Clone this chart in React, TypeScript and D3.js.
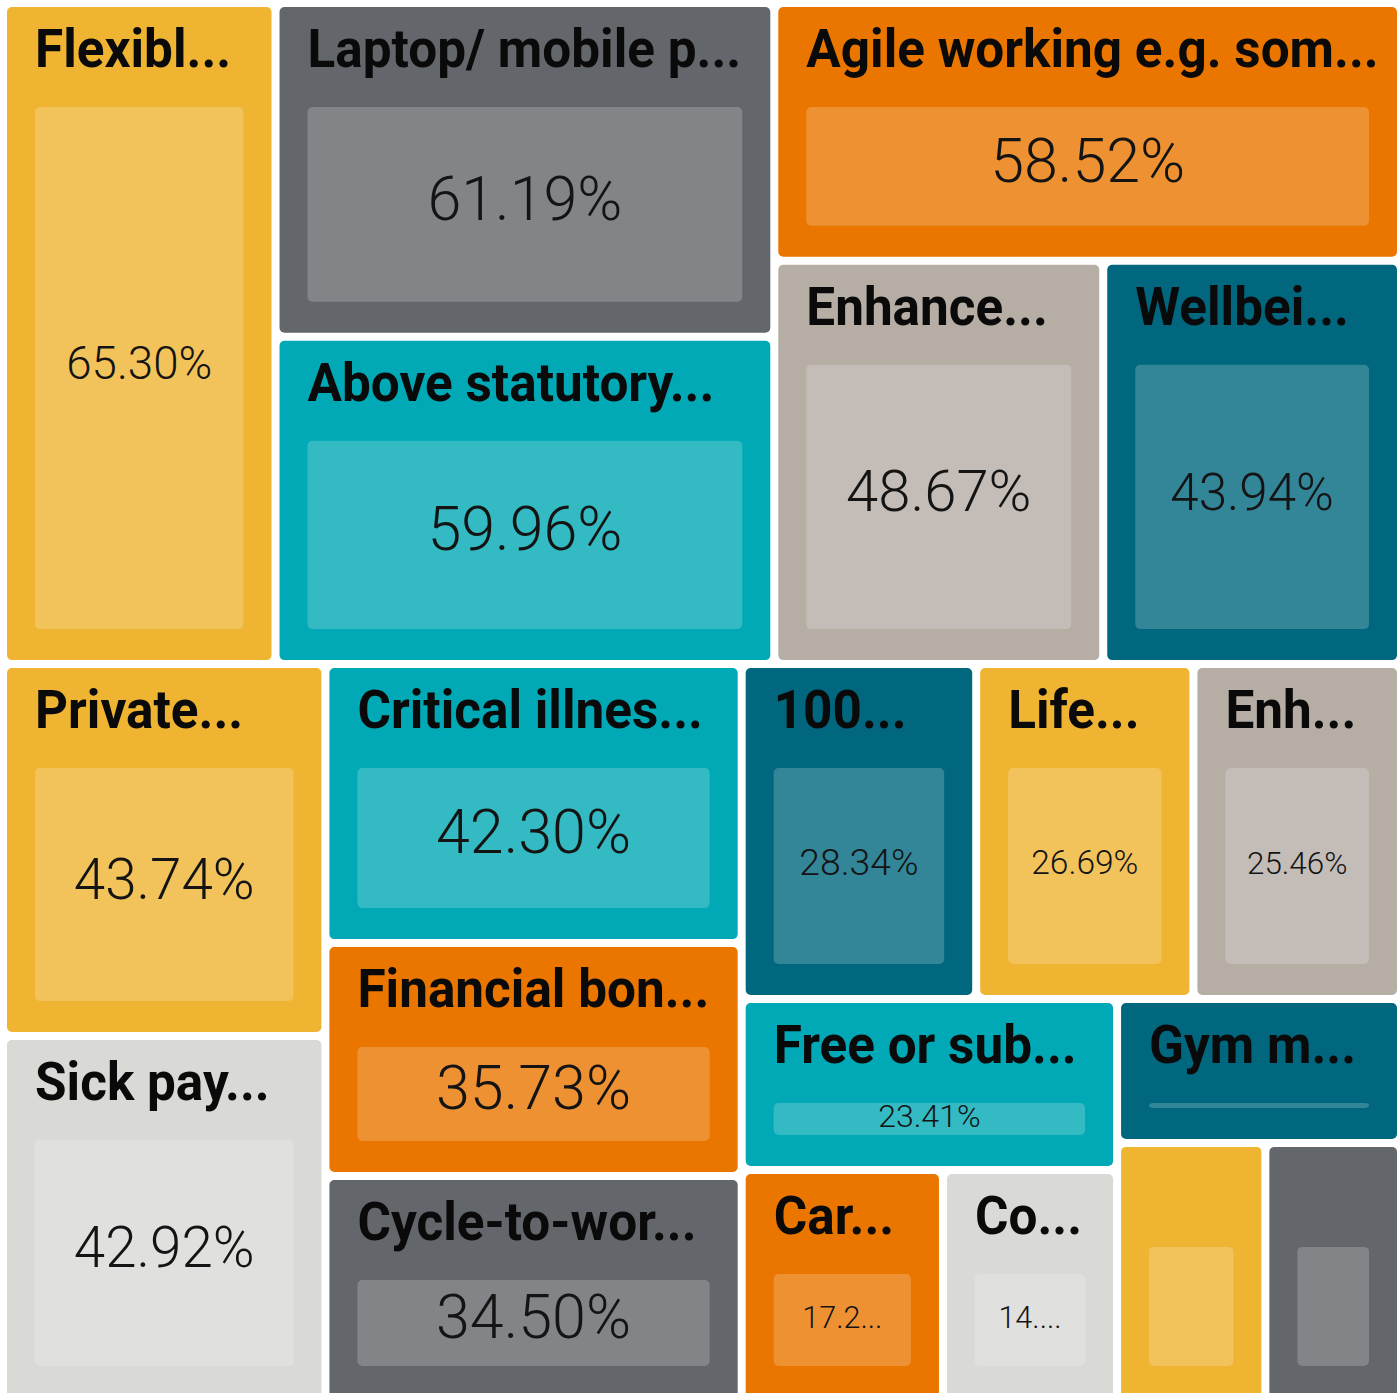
import React, { useMemo } from "react";
import * as d3 from "d3";

// Benefit categories (as labelled on the tiles) and their share of employers.
const CATEGORIES = [
  "Flexibl...",
  "Laptop/ mobile p...",
  "Above statutory...",
  "Agile working e.g. som...",
  "Enhance...",
  "Wellbei...",
  "Private...",
  "Sick pay...",
  "Critical illnes...",
  "Financial bon...",
  "Cycle-to-wor...",
  "100...",
  "Life...",
  "Enh...",
  "Free or sub...",
  "Car...",
  "Co...",
  "Gym m...",
  "",
  "",
];

const VALUES = [
  65.3, 61.19, 59.96, 58.52, 48.67, 43.94, 43.74, 42.92, 42.3, 35.73, 34.5,
  28.34, 26.69, 25.46, 23.41, 17.22, 14.8, 14.66, 14.12, 12.85,
];

const COLOR_KEYS = [
  "yellow", "slate", "teal", "orange", "taupe", "petrol",
  "yellow", "silver", "teal", "orange", "slate",
  "petrol", "yellow", "taupe", "teal", "orange", "silver", "petrol",
  "yellow", "slate",
];

const PALETTE: Record<string, string> = {
  yellow: "#F0B433",
  slate: "#63666A",
  teal: "#00A9B5",
  orange: "#EA7600",
  taupe: "#B6ADA5",
  petrol: "#00677F",
  silver: "#D9D9D6",
};

const VIEW_W = 1399;
const VIEW_H = 1393;
const LAYOUT_SIZE = 1404;
const OUTER = 7;
const GAP = 8;

const PAD_X = 28;
const INNER_TOP = 100;
const INNER_BOTTOM = 31;
const TITLE_SIZE = 54;
const TITLE_SQUEEZE = 0.95;
const VALUE_MIN = 30.6;
const VALUE_MAX = 61;
const VALUE_FONT = "Roboto";

let measureCtx: CanvasRenderingContext2D | null = null;
function measure(text: string, size: number): number {
  if (!measureCtx) measureCtx = document.createElement("canvas").getContext("2d");
  if (!measureCtx) return text.length * size * 0.52;
  measureCtx.font = `300 100px ${VALUE_FONT}`;
  return (measureCtx.measureText(text).width * size) / 100;
}

// Size the value label to ~70% of the inner box width, then shorten it with
// an ellipsis when even the minimum size does not fit.
function fitValue(text: string, boxW: number, boxH: number) {
  const avail = boxW * 0.7;
  if (boxH < 20 || avail <= 0) return null;
  const unit = measure(text, 1);
  let size = Math.min(avail / unit, boxH, VALUE_MAX);
  size = Math.max(size, VALUE_MIN);
  const tol = 0.3;
  if (measure(text, size) <= avail + tol) return { text, size };
  for (let n = text.length - 1; n >= 3; n--) {
    const t = text.slice(0, n) + "...";
    if (measure(t, size) <= avail + tol) return { text: t, size };
  }
  return null;
}

interface Datum {
  name: string;
  value?: number;
  color?: string;
  children?: Datum[];
}

// Binary tiling (same split rule as d3.treemapBinary) that reserves a fixed
// gutter at every split, so neighbouring tiles are always GAP apart.
function binaryWithGutter(gap: number) {
  return (parent: d3.HierarchyRectangularNode<Datum>, x0: number, y0: number, x1: number, y1: number) => {
    const nodes = parent.children || [];
    const n = nodes.length;
    const sums = new Array(n + 1);
    let sum = 0;
    sums[0] = 0;
    for (let i = 0; i < n; ++i) sums[i + 1] = sum += nodes[i].value || 0;

    const partition = (i: number, j: number, value: number, ax: number, ay: number, bx: number, by: number) => {
      if (i >= j - 1) {
        const node = nodes[i];
        node.x0 = ax; node.y0 = ay; node.x1 = bx; node.y1 = by;
        return;
      }
      const valueOffset = sums[i];
      const valueTarget = value / 2 + valueOffset;
      let k = i + 1;
      let hi = j - 1;
      while (k < hi) {
        const mid = (k + hi) >>> 1;
        if (sums[mid] < valueTarget) k = mid + 1;
        else hi = mid;
      }
      if (valueTarget - sums[k - 1] < sums[k] - valueTarget && i + 1 < k) --k;
      const valueLeft = sums[k] - valueOffset;
      const valueRight = value - valueLeft;
      if (bx - ax > by - ay) {
        const xk = ax + ((bx - ax - gap) * valueLeft) / value;
        partition(i, k, valueLeft, ax, ay, xk, by);
        partition(k, j, valueRight, xk + gap, ay, bx, by);
      } else {
        const yk = ay + ((by - ay - gap) * valueLeft) / value;
        partition(i, k, valueLeft, ax, ay, bx, yk);
        partition(k, j, valueRight, ax, yk + gap, bx, by);
      }
    };
    partition(0, n, parent.value || 0, x0, y0, x1, y1);
  };
}

export default function App() {
  const leaves = useMemo(() => {
    const data: Datum = {
      name: "benefits",
      children: CATEGORIES.map((name, i) => ({
        name,
        value: VALUES[i],
        color: PALETTE[COLOR_KEYS[i]],
      })),
    };
    const root = d3.hierarchy<Datum>(data).sum((d) => d.value ?? 0);
    d3
      .treemap<Datum>()
      .tile(binaryWithGutter(GAP) as any)
      .size([LAYOUT_SIZE, LAYOUT_SIZE])
      .paddingOuter(OUTER)(root);
    return root.leaves() as d3.HierarchyRectangularNode<Datum>[];
  }, []);

  const fmt = d3.format(".2f");

  return (
    <div
      style={{
        position: "absolute",
        left: 0,
        top: 0,
        width: VIEW_W,
        height: VIEW_H,
        overflow: "hidden",
        background: "#ffffff",
      }}
    >
      <svg width={VIEW_W} height={VIEW_H} style={{ display: "block" }}>
        {leaves.map((leaf, i) => {
          const w = leaf.x1 - leaf.x0;
          const h = leaf.y1 - leaf.y0;
          const ix = leaf.x0 + PAD_X;
          const iw = Math.max(0, w - PAD_X * 2);
          const iy = leaf.y0 + INNER_TOP;
          const ih = Math.max(1, leaf.y1 - INNER_BOTTOM - iy);
          const label = fitValue(`${fmt(leaf.data.value ?? 0)}%`, iw, ih);
          return (
            <g key={i}>
              <rect
                x={leaf.x0}
                y={leaf.y0}
                width={w}
                height={h}
                rx={5}
                fill={leaf.data.color}
              />
              <rect
                x={ix}
                y={iy}
                width={iw}
                height={ih}
                rx={5}
                fill="#ffffff"
                fillOpacity={0.2}
              />
              {leaf.data.name && (
                <text
                  transform={`translate(${ix},${leaf.y0 + 60}) scale(${TITLE_SQUEEZE},1)`}
                  fontFamily="Roboto"
                  fontWeight={700}
                  fontSize={TITLE_SIZE}
                  fill="#0a0a0a"
                >
                  {leaf.data.name}
                </text>
              )}
              {label && (
                <text
                  x={ix + iw / 2}
                  y={iy + ih / 2 + label.size * 0.25}
                  textAnchor="middle"
                  fontFamily={VALUE_FONT}
                  fontWeight={300}
                  fontSize={label.size}
                  fill="#141414"
                >
                  {label.text}
                </text>
              )}
            </g>
          );
        })}
      </svg>
    </div>
  );
}
